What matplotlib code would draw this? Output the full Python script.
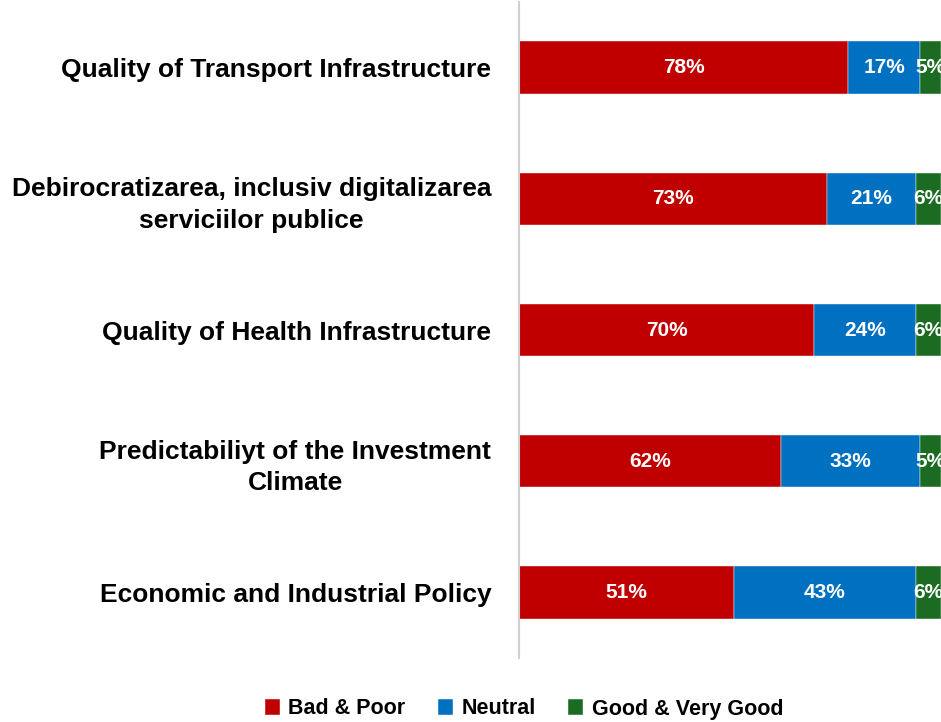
#!/usr/bin/env python3

import numpy as np
import matplotlib
matplotlib.use("Agg")
import matplotlib.pyplot as plt

# data
categories = [
    "Quality of Transport Infrastructure",
    "Debirocratizarea, inclusiv digitalizarea\nserviciilor publice",
    "Quality of Health Infrastructure",
    "Predictabiliyt of the Investment\nClimate",
    "Economic and Industrial Policy",
]
bad_poor = [78, 73, 70, 62, 51]
neutral = [17, 21, 24, 33, 43]
good = [5, 6, 6, 5, 6]

series_names = ["Bad & Poor", "Neutral", "Good & Very Good"]
colors = ["#C00000", "#0070C0", "#1B6B23"]

plt.rcParams['font.family'] = ['Liberation Sans', 'DejaVu Sans']

fig = plt.figure(figsize=(9.41, 7.22), dpi=100)
ax = fig.add_axes([519 / 941, 1 - 658 / 722, 422 / 941, 656 / 722])

y = np.arange(len(categories))
left = np.zeros(len(categories))
for vals, name, col in zip([bad_poor, neutral, good], series_names, colors):
    vals = np.array(vals, dtype=float)
    bars = ax.barh(y, vals, left=left, height=0.4, color=col, label=name,
                   edgecolor='white', linewidth=0.3)
    for b, v in zip(bars, vals):
        ax.text(b.get_x() + b.get_width() / 2, b.get_y() + b.get_height() / 2,
                "{:.0f}%".format(v), ha='center', va='center',
                color='white', fontsize=15, fontweight='bold')
    left += vals

ax.set_xlim(0, 100)
ax.set_ylim(len(categories) - 0.5, -0.5)
ax.set_yticks(y)
ax.set_yticklabels(categories, fontsize=19, fontweight='bold',
                   linespacing=1.4, multialignment='center')
ax.tick_params(axis='y', length=0, pad=20)
ax.set_xticks([])

for side in ['top', 'right', 'bottom']:
    ax.spines[side].set_visible(False)
ax.spines['left'].set_color('#D0D0D0')
ax.spines['left'].set_linewidth(1.5)

fig.legend(loc='center', bbox_to_anchor=(524 / 941, 1 - 709 / 722), ncol=3,
           frameon=False, prop={'weight': 'bold', 'size': 15.5},
           handlelength=0.7, handleheight=0.7, handletextpad=0.4,
           columnspacing=1.5)

fig.savefig("out.png", dpi=100)
